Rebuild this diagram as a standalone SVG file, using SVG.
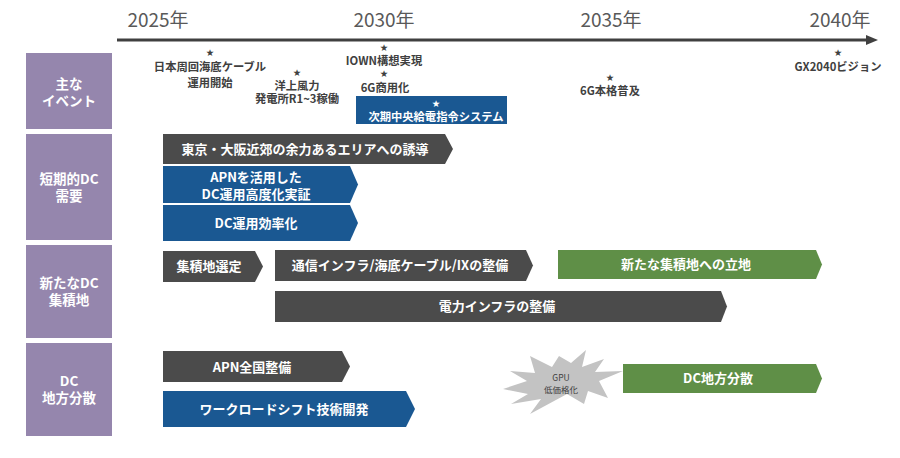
<svg xmlns="http://www.w3.org/2000/svg" width="900" height="458" viewBox="0 0 900 458">
<style>
  .yr{font-family:"Noto Sans CJK JP","Noto Sans",sans-serif;font-size:19px;fill:#595959;text-anchor:middle}
  .lab{fill:#9586ad}
  .labt{font-family:"Noto Sans CJK JP","Noto Sans",sans-serif;font-size:13.5px;font-weight:bold;fill:#ffffff;text-anchor:middle}
  .ev{font-family:"Noto Sans CJK JP","Noto Sans",sans-serif;font-size:11.3px;font-weight:bold;fill:#404040;text-anchor:middle}
  .star{font-family:"DejaVu Sans",sans-serif;font-size:9.5px;fill:#404040;text-anchor:middle}
  .bt{font-family:"Noto Sans CJK JP","Noto Sans",sans-serif;font-size:13px;font-weight:bold;fill:#ffffff;text-anchor:middle}
  .dk{fill:#4b4b4b}
  .bl{fill:#1a5892}
  .gr{fill:#5f8f47}
</style>

<g id="axis">
  <line x1="117" y1="40" x2="868" y2="40" stroke="#404040" stroke-width="3"/>
  <polygon points="866,35 878,40 866,45" fill="#404040"/>
  <text class="yr" x="158" y="27">2025年</text>
  <text class="yr" x="384" y="27">2030年</text>
  <text class="yr" x="611" y="27">2035年</text>
  <text class="yr" x="840" y="27">2040年</text>
</g>

<g id="row-labels">
  <g id="label-events">
    <rect class="lab" x="26" y="53" width="86" height="76"/>
    <text class="labt" x="69" y="89">主な</text>
    <text class="labt" x="69" y="106">イベント</text>
  </g>
  <g id="label-short">
    <rect class="lab" x="26" y="134" width="86" height="106"/>
    <text class="labt" x="69" y="184">短期的DC</text>
    <text class="labt" x="69" y="201">需要</text>
  </g>
  <g id="label-new">
    <rect class="lab" x="26" y="245" width="86" height="93"/>
    <text class="labt" x="69" y="288">新たなDC</text>
    <text class="labt" x="69" y="305">集積地</text>
  </g>
  <g id="label-dist">
    <rect class="lab" x="26" y="343" width="86" height="93"/>
    <text class="labt" x="69" y="386">DC</text>
    <text class="labt" x="69" y="403">地方分散</text>
  </g>
</g>

<g id="events">
  <g id="ev-cable">
    <text class="star" x="210" y="56">★</text>
    <text class="ev" x="210" y="71">日本周回海底ケーブル</text>
    <text class="ev" x="210" y="87">運用開始</text>
  </g>
  <g id="ev-wind">
    <text class="star" x="297" y="76">★</text>
    <text class="ev" x="297" y="90">洋上風力</text>
    <text class="ev" x="297" y="103">発電所R1~3稼働</text>
  </g>
  <g id="ev-iown">
    <text class="star" x="384" y="51">★</text>
    <text class="ev" x="384" y="65">IOWN構想実現</text>
  </g>
  <g id="ev-6g">
    <text class="star" x="384" y="77">★</text>
    <text class="ev" x="385" y="92">6G商用化</text>
  </g>
  <g id="ev-grid">
    <rect class="bl" x="356" y="96" width="151" height="28"/>
    <text class="star" x="436" y="107" style="fill:#ffffff">★</text>
    <text class="ev" x="436" y="121" style="fill:#ffffff">次期中央給電指令システム</text>
  </g>
  <g id="ev-6g-spread">
    <text class="star" x="610" y="81">★</text>
    <text class="ev" x="610" y="95">6G本格普及</text>
  </g>
  <g id="ev-gx">
    <text class="star" x="838" y="56">★</text>
    <text class="ev" x="838" y="71">GX2040ビジョン</text>
  </g>
</g>

<g id="short-term">
  <g id="bar-tokyo">
    <polygon class="dk" points="163,134 445,134 453,149 445,164 163,164"/>
    <text class="bt" x="305" y="154">東京・大阪近郊の余力あるエリアへの誘導</text>
  </g>
  <g id="bar-apn-verify">
    <polygon class="bl" points="163,166 350,166 358,184.5 350,203 163,203"/>
    <text class="bt" x="256" y="182">APNを活用した</text>
    <text class="bt" x="256" y="199">DC運用高度化実証</text>
  </g>
  <g id="bar-efficiency">
    <polygon class="bl" points="163,205 350,205 358,223 350,241 163,241"/>
    <text class="bt" x="256" y="228">DC運用効率化</text>
  </g>
</g>

<g id="new-cluster">
  <g id="bar-select">
    <polygon class="dk" points="163,251 255,251 263,266.5 255,282 163,282"/>
    <text class="bt" x="209" y="271">集積地選定</text>
  </g>
  <g id="bar-comm">
    <polygon class="dk" points="275,250 526,250 533,265.5 526,281 275,281"/>
    <text class="bt" x="400" y="270">通信インフラ/海底ケーブル/IXの整備</text>
  </g>
  <g id="bar-locate">
    <polygon class="gr" points="558,250 816,250 822,264.5 816,279 558,279"/>
    <text class="bt" x="686" y="269">新たな集積地への立地</text>
  </g>
  <g id="bar-power">
    <polygon class="dk" points="275,291 721,291 727,306.5 721,322 275,322"/>
    <text class="bt" x="497" y="311">電力インフラの整備</text>
  </g>
</g>

<g id="distributed">
  <g id="bar-apn">
    <polygon class="dk" points="163,351 342,351 350,366.5 342,382 163,382"/>
    <text class="bt" x="252" y="372">APN全国整備</text>
  </g>
  <g id="bar-workload">
    <polygon class="bl" points="163,391 406,391 415,409 406,427 163,427"/>
    <text class="bt" x="284" y="414">ワークロードシフト技術開発</text>
  </g>
  <g id="burst-gpu">
    <polygon fill="#c3c3c3" points="503,389 527,381 510,371 535,373 530,356 552,367 559,356 571,363 586,350 582,367 604,359 595,372 623,371 599,381 608,398 588,391 584,404 567,394 530,414 541,399 511,404 528,394"/>
    <text x="561" y="381" style="font-family:'Noto Sans CJK JP',sans-serif;font-size:8.5px;fill:#404040;text-anchor:middle">GPU</text>
    <text x="561" y="393" style="font-family:'Noto Sans CJK JP',sans-serif;font-size:8.5px;fill:#404040;text-anchor:middle">低価格化</text>
  </g>
  <g id="bar-dc-dist">
    <polygon class="gr" points="623,364 816,364 822,378.5 816,393 623,393"/>
    <text class="bt" x="718" y="383">DC地方分散</text>
  </g>
</g>
</svg>
